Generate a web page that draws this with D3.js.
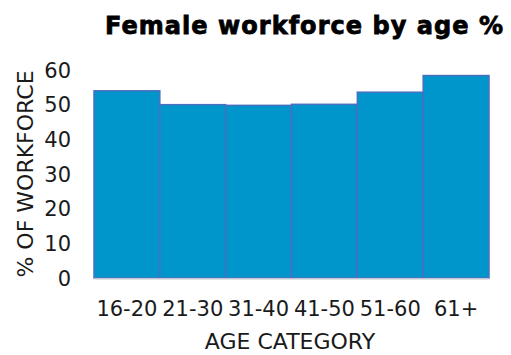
<!DOCTYPE html>
<html lang="en">
<head>
    <meta charset="UTF-8">
    <title>Female workforce by age %</title>
    <script src="https://d3js.org/d3.v7.min.js"></script>
    <style>
        body {
            margin: 0;
            background: #ffffff;
            overflow: hidden;
        }
        text {
            font-family: "DejaVu Sans", "Open Sans", sans-serif;
            fill: #1a1a1a;
        }
    </style>
</head>
<body>
<script>
    const categories = ["16-20", "21-30", "31-40", "41-50", "51-60", "61+"];
    const values = [54.0, 50.0, 49.8, 50.1, 53.6, 58.4];
    const yTicks = [0, 10, 20, 30, 40, 50, 60];

    const width = 511;
    const height = 355;
    const margin = { top: 70, right: 22, bottom: 77, left: 94 };

    const svg = d3.select("body").append("svg")
        .attr("width", width)
        .attr("height", height);

    const x = d3.scaleBand()
        .domain(categories)
        .range([margin.left, width - margin.right])
        .padding(0);

    const y = d3.scaleLinear()
        .domain([0, 60])
        .range([height - margin.bottom, margin.top]);

    // bars
    svg.append("g")
        .selectAll("rect")
        .data(values)
        .enter().append("rect")
        .attr("x", (d, i) => x(categories[i]))
        .attr("y", d => y(d))
        .attr("width", x.bandwidth())
        .attr("height", d => y(0) - y(d))
        .style("fill", "#0096CB")
        .style("stroke", "#4A6FC0")
        .style("stroke-width", "1.5px");

    // baseline
    svg.append("line")
        .attr("x1", margin.left)
        .attr("x2", width - margin.right)
        .attr("y1", y(0) + 1)
        .attr("y2", y(0) + 1)
        .style("stroke", "#d9d9d9")
        .style("stroke-width", "1.5px");

    // y tick labels
    svg.append("g")
        .selectAll("text")
        .data(yTicks)
        .enter().append("text")
        .attr("x", 71)
        .attr("y", d => y(d))
        .attr("dy", "0.36em")
        .attr("text-anchor", "end")
        .style("font-size", "21px")
        .text(d => d);

    // x tick labels
    svg.append("g")
        .selectAll("text")
        .data(categories)
        .enter().append("text")
        .attr("x", d => x(d) + x.bandwidth() / 2)
        .attr("y", 316)
        .attr("text-anchor", "middle")
        .style("font-size", "21px")
        .text(d => d);

    // axis titles
    svg.append("text")
        .attr("x", 290)
        .attr("y", 349)
        .attr("text-anchor", "middle")
        .style("font-size", "22px")
        .text("AGE CATEGORY");

    svg.append("text")
        .attr("transform", `translate(33,${(y(0) + y(60)) / 2}) rotate(-90)`)
        .attr("text-anchor", "middle")
        .style("font-size", "22px")
        .text("% OF WORKFORCE");

    // title (a thin stroke makes it look heavier, closer to the original)
    svg.append("text")
        .attr("x", 105)
        .attr("y", 34)
        .attr("textLength", 398)
        .attr("lengthAdjust", "spacing")
        .style("font-size", "24px")
        .style("font-weight", "bold")
        .style("fill", "#000")
        .style("stroke", "#000")
        .style("stroke-width", "0.8px")
        .text("Female workforce by age %");
</script>
</body>
</html>
